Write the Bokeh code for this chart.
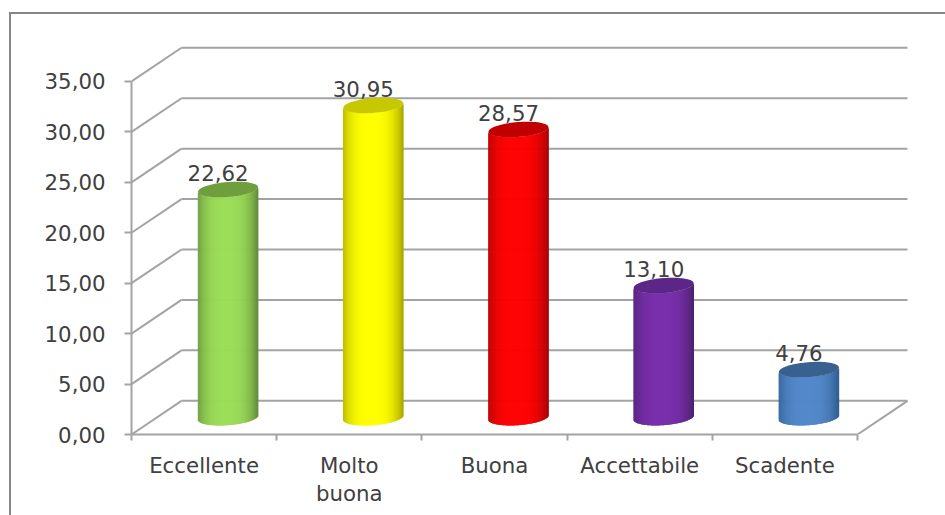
from bokeh.embed import file_html
from bokeh.models import FixedTicker, InlineStyleSheet, LinearAxis, Range1d
from bokeh.plotting import figure
from bokeh.resources import INLINE
from bokeh.core.properties import value
import numpy as np

# Survey outcome percentages by rating
categories = ["Eccellente", "Molto\nbuona", "Buona", "Accettabile", "Scadente"]
percentages = [22.62, 30.95, 28.57, 13.10, 4.76]
value_ticks = [0, 5, 10, 15, 20, 25, 30, 35]
value_tick_labels = ["0,00", "5,00", "10,00", "15,00", "20,00", "25,00", "30,00", "35,00"]

# Cylinder shading: centre of the body, its edge, and the flat cap
body_colors = ["#9bdd58", "#ffff00", "#ff0000", "#7a30ac", "#5288ca"]
edge_colors = ["#60893a", "#a6a600", "#a80000", "#4e2270", "#2c5a8e"]
cap_colors = ["#6e9f3c", "#c8c800", "#c00000", "#5c2686", "#38618f"]

# Pixel scale of the front plane
PX_PER_CAT = 145.2
PX_PER_UNIT = 10.086
LEFT, BOTTOM, RIGHT, TOP = 131, 434, 908, 44

# Offset from the front plane to the back wall, in data units
DEPTH_X = 50 / PX_PER_CAT
DEPTH_Y = 33.7 / PX_PER_UNIT

GRID = "#a3a3a3"
TEXT = "#404040"
FONT = "DejaVu Sans"
FONT_SIZE = "21.3px"

p = figure(
    width=945, height=515, output_backend="svg", toolbar_location=None,
    frame_width=RIGHT - LEFT, frame_height=BOTTOM - TOP,
    x_range=Range1d(0, (RIGHT - LEFT) / PX_PER_CAT),
    y_range=Range1d(0, (BOTTOM - TOP) / PX_PER_UNIT),
    x_axis_type=None, y_axis_type=None,
    min_border_left=LEFT, min_border_right=945 - RIGHT,
    min_border_top=TOP, min_border_bottom=515 - BOTTOM,
    outline_line_color=None, background_fill_color="white", border_fill_color="white",
)
p.grid.visible = False

# Outer chart border: only the left and top edges fall inside the page
p.stylesheets = [InlineStyleSheet(css="""
:host::after {
  content: "";
  position: absolute;
  left: 8.5px;
  top: 11.5px;
  width: 934px;
  height: 501px;
  border-left: 2px solid #868686;
  border-top: 2px solid #868686;
  pointer-events: none;
}
""")]

# Back wall and left wall lines at each tick value
n = len(categories)
p.segment(x0=[DEPTH_X] * len(value_ticks), x1=[n + DEPTH_X] * len(value_ticks),
          y0=[v + DEPTH_Y for v in value_ticks], y1=[v + DEPTH_Y for v in value_ticks],
          line_color=GRID, line_width=2)
p.segment(x0=[0] * len(value_ticks), x1=[DEPTH_X] * len(value_ticks),
          y0=value_ticks, y1=[v + DEPTH_Y for v in value_ticks],
          line_color=GRID, line_width=2)
# Right edge of the floor
p.segment(x0=[n], x1=[n + DEPTH_X], y0=[0], y1=[DEPTH_Y], line_color=GRID, line_width=2)


def hex_rgb(c):
    return np.array([int(c[i:i + 2], 16) for i in (1, 3, 5)], dtype=float)


def to_hex(rgb):
    return "#%02x%02x%02x" % tuple(int(round(x)) for x in rgb)


# Cylinders, built from thin vertical strips to carry the horizontal shading
RADIUS_X = 30 / PX_PER_CAT
RADIUS_Y = 7.5 / PX_PER_UNIT
TILT_PX = 2.2  # rise of the ellipse's right end above its centre
STRIPS = 120

for i, pct in enumerate(percentages):
    cx = i + 0.5 + DEPTH_X / 2 - 1 / PX_PER_CAT
    base = DEPTH_Y / 2
    top = pct + DEPTH_Y / 2
    u = (np.arange(STRIPS) + 0.5) / STRIPS * 2 - 1
    xs = cx + u * RADIUS_X
    arc = RADIUS_Y * np.sqrt(1 - u ** 2)
    lean = TILT_PX * u / PX_PER_UNIT
    shade = np.clip(np.abs(u + 0.05) / 1.05, 0, 1) ** 3
    centre, edge = hex_rgb(body_colors[i]), hex_rgb(edge_colors[i])
    strip_colors = [to_hex(centre + (edge - centre) * s) for s in shade]
    # Body runs from the lower rim of the base to the lower rim of the cap
    p.segment(x0=xs, x1=xs, y0=base + lean - arc, y1=top + lean - arc,
              line_color=strip_colors, line_width=1.1, line_cap="butt")
    # Cap ellipse, tilted slightly upward to the right
    t = np.linspace(0, 2 * np.pi, 80)
    cap_x = cx + RADIUS_X * np.cos(t)
    cap_y = top + RADIUS_Y * np.sin(t) + TILT_PX * np.cos(t) / PX_PER_UNIT
    p.patch(cap_x, cap_y, fill_color=cap_colors[i], line_color=None)

# Value labels above each cylinder
p.text(
    x=[i + 0.5 + DEPTH_X / 2 - 11 / PX_PER_CAT for i in range(n)],
    y=[v + DEPTH_Y / 2 + 16.5 / PX_PER_UNIT for v in percentages],
    text=[f"{v:.2f}".replace(".", ",") for v in percentages],
    text_font=value(FONT), text_font_size=value(FONT_SIZE), text_color=TEXT,
    text_align="center", text_baseline="middle",
)

# Value axis
y_axis = LinearAxis(
    ticker=FixedTicker(ticks=value_ticks),
    major_label_overrides=dict(zip(value_ticks, value_tick_labels)),
    bounds=(0, 35), axis_line_color=GRID, axis_line_width=2,
    major_tick_line_color=GRID, major_tick_line_width=2,
    major_tick_in=0, major_tick_out=7, minor_tick_line_color=None,
    major_label_standoff=19, major_label_text_font=FONT,
    major_label_text_font_size=FONT_SIZE, major_label_text_color=TEXT,
)
p.add_layout(y_axis, "left")

# Category axis: ticks bound each category, labels sit between them
centres = [i + 0.5 for i in range(n)]
x_axis = LinearAxis(
    ticker=FixedTicker(ticks=centres, minor_ticks=list(range(n + 1))),
    major_label_overrides=dict(zip(centres, categories)),
    bounds=(0, n), axis_line_color=GRID, axis_line_width=2,
    major_tick_line_color=None, major_tick_in=0, major_tick_out=0,
    minor_tick_line_color=GRID, minor_tick_line_width=2,
    minor_tick_in=0, minor_tick_out=6,
    major_label_standoff=12, major_label_text_font=FONT,
    major_label_text_font_size=FONT_SIZE, major_label_text_color=TEXT,
    major_label_text_line_height=1.12,
)
p.add_layout(x_axis, "below")

open("out.html", "w").write(file_html(p, INLINE))
